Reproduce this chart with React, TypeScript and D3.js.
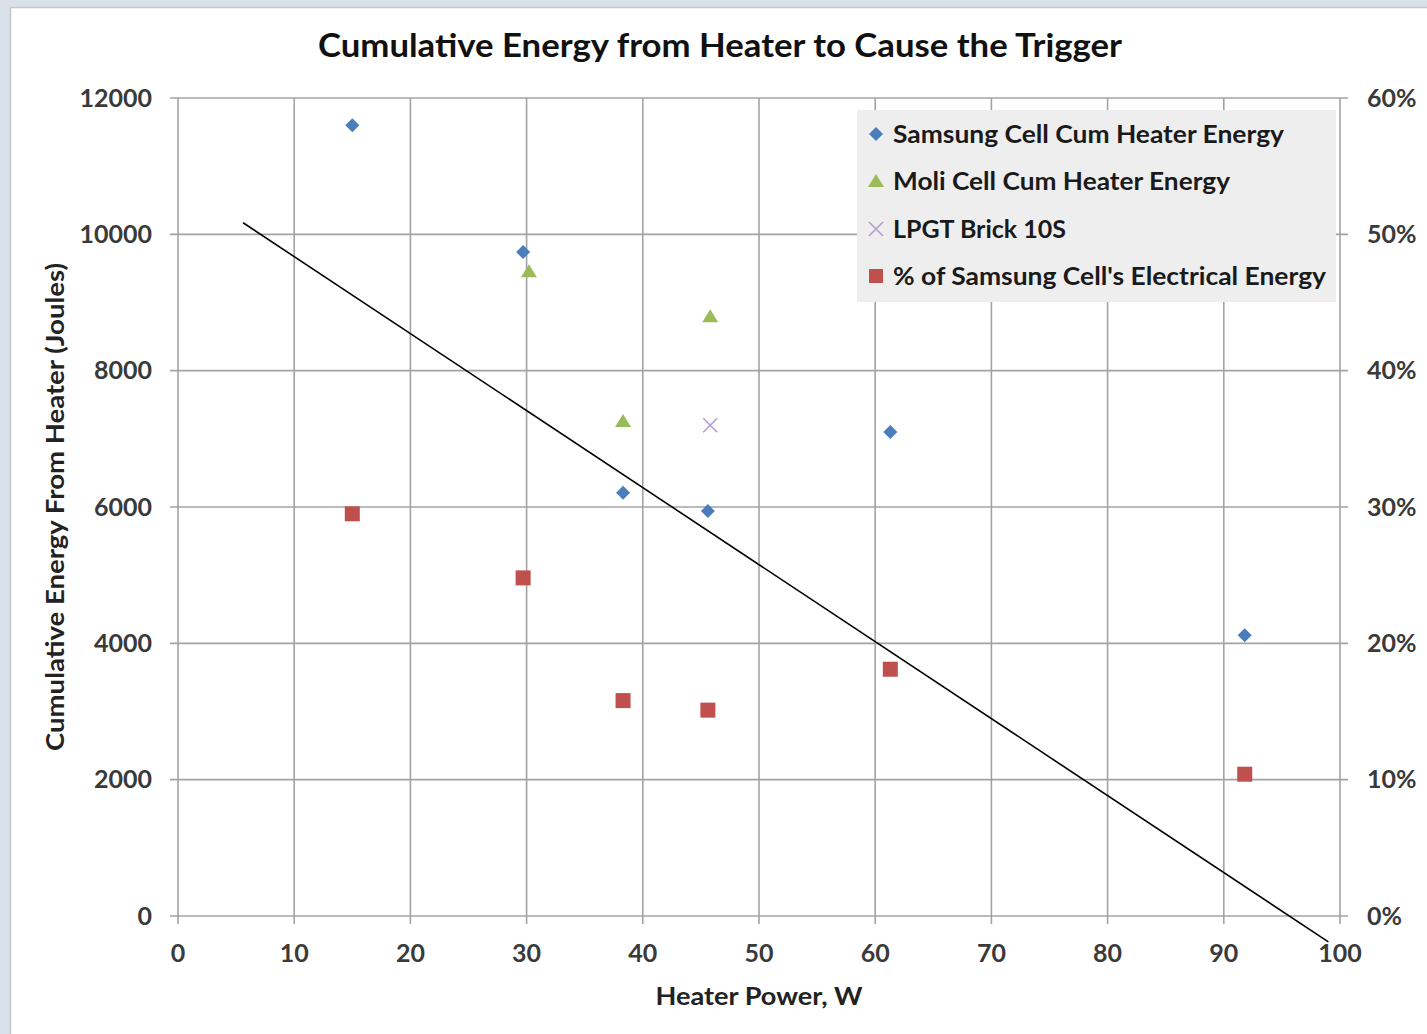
import React from 'react';
import * as d3 from 'd3';

const titleText = 'Cumulative Energy from Heater to Cause the Trigger';
const xTitle = 'Heater Power, W';
const yTitle = 'Cumulative Energy From Heater (Joules)';

const samsungPower = [15, 29.7, 38.3, 45.6, 61.3, 91.8];
const samsungEnergy = [11600, 9740, 6210, 5940, 7100, 4120];
const moliPower = [30.2, 38.3, 45.8];
const moliEnergy = [9460, 7260, 8800];
const lpgtPower = [45.8];
const lpgtEnergy = [7200];
const pctPower = [15, 29.7, 38.3, 45.6, 61.3, 91.8];
const pctValues = [0.295, 0.248, 0.158, 0.151, 0.181, 0.104];
const trendPower = [5.6, 99];
const trendEnergy = [10170, -380];

const xTicks = [0, 10, 20, 30, 40, 50, 60, 70, 80, 90, 100];
const yTicks = [0, 2000, 4000, 6000, 8000, 10000, 12000];
const y2Ticks = [0, 0.1, 0.2, 0.3, 0.4, 0.5, 0.6];

const legendLabels = [
  'Samsung Cell Cum Heater Energy',
  'Moli Cell Cum Heater Energy',
  'LPGT Brick 10S',
  "% of Samsung Cell's Electrical Energy",
];
const legendWidths = [391, 337, 173, 433];

const BLUE = '#4a7ebb';
const GREEN = '#9bbb59';
const PURPLE = '#b09fd0';
const RED = '#c0504d';
const FONT = 'Lato, "Open Sans", sans-serif';

export default function App() {
  const W = 1427, H = 1034;
  const x = d3.scaleLinear().domain([0, 100]).range([178, 1340]);
  const y = d3.scaleLinear().domain([0, 12000]).range([916, 98]);
  const y2 = d3.scaleLinear().domain([0, 0.6]).range([916, 98]);
  const grid = '#a3a3a3';
  const tickColor = '#3a3a3a';
  const line = d3.line<number>().x((d, i) => x(trendPower[i])).y((d) => y(d));

  const diamond = (cx: number, cy: number, r = 7) =>
    `M${cx},${cy - r}L${cx + r},${cy}L${cx},${cy + r}L${cx - r},${cy}Z`;
  const triangle = (cx: number, cy: number) =>
    `M${cx},${cy - 7}L${cx + 8},${cy + 6}L${cx - 8},${cy + 6}Z`;
  const cross = (cx: number, cy: number, r = 7) =>
    `M${cx - r},${cy - r}L${cx + r},${cy + r}M${cx + r},${cy - r}L${cx - r},${cy + r}`;

  const legendY = [134, 181, 229, 276];

  return (
    <svg width={W} height={H} style={{ position: 'absolute', left: 0, top: 0, background: '#fff' }}>
      {/* frame */}
      <rect x={0} y={0} width={W} height={H} fill="#fff" />
      <rect x={0} y={0} width={W} height={8} fill="#dbe1e9" />
      <rect x={0} y={0} width={10} height={H} fill="#dbe1e9" />
      <line x1={10.5} y1={7.5} x2={10.5} y2={H} stroke="#c4c8cc" strokeWidth={1.5} />
      <line x1={10.5} y1={7.5} x2={W} y2={7.5} stroke="#c4c8cc" strokeWidth={1.5} />

      {/* title */}
      <text x={720} y={57} textAnchor="middle" fontFamily={FONT} fontWeight="bold" fontSize={32}
        fill="#111" textLength={804} lengthAdjust="spacingAndGlyphs">{titleText}</text>

      {/* gridlines */}
      {xTicks.map((t) => (
        <line key={'vx' + t} x1={x(t)} x2={x(t)} y1={98} y2={924} stroke={grid} strokeWidth={1.6} />
      ))}
      {yTicks.map((t) => (
        <line key={'hy' + t} x1={170} x2={1348} y1={y(t)} y2={y(t)} stroke={grid} strokeWidth={1.6} />
      ))}

      {/* tick labels */}
      {yTicks.map((t) => (
        <text key={'yl' + t} x={152} y={y(t)} dy="0.35em" textAnchor="end" fontFamily={FONT}
          fontWeight="bold" fontSize={25} fill={tickColor}>{t}</text>
      ))}
      {y2Ticks.map((t) => (
        <text key={'y2l' + t} x={1367} y={y2(t)} dy="0.35em" textAnchor="start" fontFamily={FONT}
          fontWeight="bold" fontSize={25} fill={tickColor}>{d3.format('.0%')(t)}</text>
      ))}
      {xTicks.map((t) => (
        <text key={'xl' + t} x={x(t)} y={953} dy="0.35em" textAnchor="middle" fontFamily={FONT}
          fontWeight="bold" fontSize={25} fill={tickColor}>{t}</text>
      ))}

      {/* axis titles */}
      <text x={759} y={996} dy="0.35em" textAnchor="middle" fontFamily={FONT} fontWeight="bold"
        fontSize={25} fill="#222" textLength={207} lengthAdjust="spacingAndGlyphs">{xTitle}</text>
      <text transform={`translate(55,507) rotate(-90)`} dy="0.35em" textAnchor="middle" fontFamily={FONT}
        fontWeight="bold" fontSize={25} fill="#222" textLength={488} lengthAdjust="spacingAndGlyphs">{yTitle}</text>

      {/* legend */}
      <rect x={857} y={110} width={479} height={192} fill="#eeeeee" />
      {legendLabels.map((l, i) => (
        <text key={'lg' + i} x={893} y={legendY[i]} dy="0.35em" fontFamily={FONT} fontSize={25}
          fontWeight="bold" fill="#1a1a1a" textLength={legendWidths[i]} lengthAdjust="spacingAndGlyphs">{l}</text>
      ))}
      <path d={diamond(876, legendY[0])} fill={BLUE} />
      <path d={triangle(876, legendY[1])} fill={GREEN} />
      <path d={cross(876, legendY[2])} stroke={PURPLE} strokeWidth={1.6} fill="none" />
      <rect x={869} y={legendY[3] - 7} width={14} height={14} fill={RED} />

      {/* trend line */}
      <path d={line(trendEnergy) || ''} stroke="#000" strokeWidth={1.6} fill="none" />

      {/* series */}
      {samsungPower.map((p, i) => (
        <path key={'s' + i} d={diamond(x(p), y(samsungEnergy[i]))} fill={BLUE} />
      ))}
      {moliPower.map((p, i) => (
        <path key={'m' + i} d={triangle(x(p), y(moliEnergy[i]))} fill={GREEN} />
      ))}
      {lpgtPower.map((p, i) => (
        <path key={'l' + i} d={cross(x(p), y(lpgtEnergy[i]))} stroke={PURPLE} strokeWidth={1.6} fill="none" />
      ))}
      {pctPower.map((p, i) => (
        <rect key={'p' + i} x={x(p) - 7.5} y={y2(pctValues[i]) - 7.5} width={15} height={15} fill={RED} />
      ))}
    </svg>
  );
}
